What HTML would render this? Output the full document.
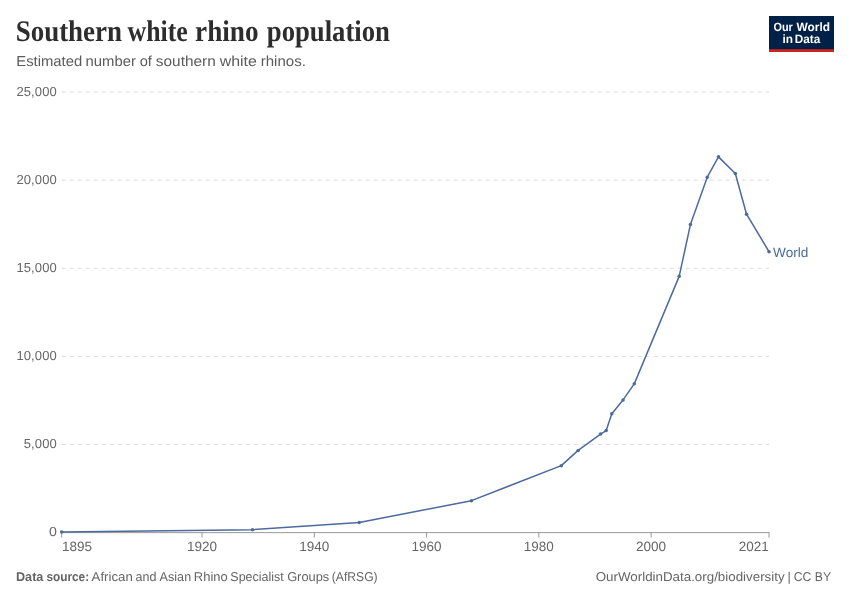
<!DOCTYPE html>
<html><head><meta charset="utf-8"><title>Southern white rhino population</title>
<style>
html,body{margin:0;padding:0;background:#fff;}
svg{display:block;text-rendering:geometricPrecision;font-family:"Liberation Sans",Arial,sans-serif;}
.title{font-family:"Liberation Serif","Times New Roman",serif;font-weight:bold;fill:#2d2d2d;}
</style></head><body>
<svg width="850" height="600" viewBox="0 0 850 600">
<rect width="850" height="600" fill="#fff"/>
<g class="title" font-size="30"><text y="40.6" font-weight="bold"><tspan x="15.70" textLength="106.29" lengthAdjust="spacingAndGlyphs">Southern</tspan> <tspan x="127.53" textLength="60.24" lengthAdjust="spacingAndGlyphs">white</tspan> <tspan x="195.12" textLength="63.47" lengthAdjust="spacingAndGlyphs">rhino</tspan> <tspan x="266.84" textLength="123.12" lengthAdjust="spacingAndGlyphs">population</tspan></text></g>
<g font-size="14.5" fill="#5b5b5b"><text y="66"><tspan x="16.29" textLength="65.98" lengthAdjust="spacingAndGlyphs">Estimated</tspan> <tspan x="85.53" textLength="50.31" lengthAdjust="spacingAndGlyphs">number</tspan> <tspan x="139.72" textLength="12.22" lengthAdjust="spacingAndGlyphs">of</tspan> <tspan x="155.84" textLength="59.92" lengthAdjust="spacingAndGlyphs">southern</tspan> <tspan x="219.65" textLength="37.20" lengthAdjust="spacingAndGlyphs">white</tspan> <tspan x="260.74" textLength="45.09" lengthAdjust="spacingAndGlyphs">rhinos.</tspan></text></g>
<g>
<rect x="769" y="16" width="65" height="36" fill="#002147"/>
<rect x="769" y="49.2" width="65" height="2.8" fill="#ce261e"/>
<g fill="#fff" font-weight="bold" font-size="12">
<text y="30.6" font-weight="bold"><tspan x="773.50" textLength="19.33" lengthAdjust="spacingAndGlyphs">Our</tspan> <tspan x="796.51" textLength="33.46" lengthAdjust="spacingAndGlyphs">World</tspan></text> <text y="42.8" font-weight="bold"><tspan x="782.40" textLength="10.53" lengthAdjust="spacingAndGlyphs">in</tspan> <tspan x="794.71" textLength="25.53" lengthAdjust="spacingAndGlyphs">Data</tspan></text>
</g></g>
<g stroke="#dddddd" stroke-width="1" stroke-dasharray="4,4" fill="none"><line x1="61.65" x2="769" y1="92" y2="92"/><line x1="61.65" x2="769" y1="180.125" y2="180.125"/><line x1="61.65" x2="769" y1="268.25" y2="268.25"/><line x1="61.65" x2="769" y1="356.375" y2="356.375"/><line x1="61.65" x2="769" y1="444.5" y2="444.5"/></g>
<g font-size="13" fill="#666"><text x="56.9" y="95.85" text-anchor="end" letter-spacing="0.12">25,000</text> <text x="56.9" y="183.97" text-anchor="end" letter-spacing="0.12">20,000</text> <text x="56.9" y="272.10" text-anchor="end" letter-spacing="0.12">15,000</text> <text x="56.9" y="360.23" text-anchor="end" letter-spacing="0.12">10,000</text> <text x="56.9" y="448.35" text-anchor="end" letter-spacing="0.12">5,000</text> <text x="56.9" y="536.48" text-anchor="end" textLength="7.9" lengthAdjust="spacingAndGlyphs">0</text></g>
<line x1="61.65" x2="769" y1="532.625" y2="532.625" stroke="#999" stroke-width="1"/>
<g stroke="#999" stroke-width="1"><line x1="61.65" x2="61.65" y1="532.1" y2="537.6"/><line x1="202.00" x2="202.00" y1="532.1" y2="537.6"/><line x1="314.27" x2="314.27" y1="532.1" y2="537.6"/><line x1="426.55" x2="426.55" y1="532.1" y2="537.6"/><line x1="538.83" x2="538.83" y1="532.1" y2="537.6"/><line x1="651.11" x2="651.11" y1="532.1" y2="537.6"/><line x1="769.00" x2="769.00" y1="532.1" y2="537.6"/></g>
<g font-size="13.5" fill="#666"><text x="62" y="550.55">1895</text> <text x="202.00" y="550.55" text-anchor="middle">1920</text> <text x="314.27" y="550.55" text-anchor="middle">1940</text> <text x="426.55" y="550.55" text-anchor="middle">1960</text> <text x="538.83" y="550.55" text-anchor="middle">1980</text> <text x="651.11" y="550.55" text-anchor="middle">2000</text> <text x="768.8" y="550.55" text-anchor="end">2021</text></g>
<path d="M61.65,531.88 L252.52,529.63 L359.19,522.58 L471.46,500.64 L561.29,465.65 L578.13,450.40 L600.58,434.10 L606.20,430.58 L611.81,413.66 L623.04,399.91 L634.27,383.87 L679.18,276.36 L690.41,224.54 L707.25,177.13 L718.47,156.86 L735.32,173.52 L746.54,214.19 L769.00,251.65" fill="none" stroke="#4c6a9c" stroke-width="1.5" stroke-linejoin="round" stroke-linecap="round"/>
<g fill="#4c6a9c"><circle cx="61.65" cy="531.88" r="1.75"/><circle cx="252.52" cy="529.63" r="1.75"/><circle cx="359.19" cy="522.58" r="1.75"/><circle cx="471.46" cy="500.64" r="1.75"/><circle cx="561.29" cy="465.65" r="1.75"/><circle cx="578.13" cy="450.40" r="1.75"/><circle cx="600.58" cy="434.10" r="1.75"/><circle cx="606.20" cy="430.58" r="1.75"/><circle cx="611.81" cy="413.66" r="1.75"/><circle cx="623.04" cy="399.91" r="1.75"/><circle cx="634.27" cy="383.87" r="1.75"/><circle cx="679.18" cy="276.36" r="1.75"/><circle cx="690.41" cy="224.54" r="1.75"/><circle cx="707.25" cy="177.13" r="1.75"/><circle cx="718.47" cy="156.86" r="1.75"/><circle cx="735.32" cy="173.52" r="1.75"/><circle cx="746.54" cy="214.19" r="1.75"/><circle cx="769.00" cy="251.65" r="1.75"/></g>
<text x="773.14" y="256.5" font-size="13.3" fill="#4c6a9c" textLength="35.32" lengthAdjust="spacingAndGlyphs">World</text>
<g font-size="12.8" fill="#646464"><text y="580.6"><tspan font-weight="bold"><tspan x="16.00" textLength="27.40" lengthAdjust="spacingAndGlyphs">Data</tspan> <tspan x="46.39" textLength="42.78" lengthAdjust="spacingAndGlyphs">source:</tspan></tspan> <tspan x="91.59" textLength="41.17" lengthAdjust="spacingAndGlyphs">African</tspan> <tspan x="135.56" textLength="20.91" lengthAdjust="spacingAndGlyphs">and</tspan> <tspan x="159.62" textLength="31.53" lengthAdjust="spacingAndGlyphs">Asian</tspan> <tspan x="193.87" textLength="33.91" lengthAdjust="spacingAndGlyphs">Rhino</tspan> <tspan x="230.35" textLength="53.46" lengthAdjust="spacingAndGlyphs">Specialist</tspan> <tspan x="287.15" textLength="42.08" lengthAdjust="spacingAndGlyphs">Groups</tspan> <tspan x="331.81" textLength="45.84" lengthAdjust="spacingAndGlyphs">(AfRSG)</tspan></text></g>
<g font-size="12.8" fill="#646464"><text y="580.6"><tspan x="595.69" textLength="188.92" lengthAdjust="spacingAndGlyphs">OurWorldinData.org/biodiversity</tspan> <tspan x="787.6">|</tspan> <tspan x="793.80" textLength="37.34" lengthAdjust="spacingAndGlyphs">CC BY</tspan></text></g>
</svg>
</body></html>
